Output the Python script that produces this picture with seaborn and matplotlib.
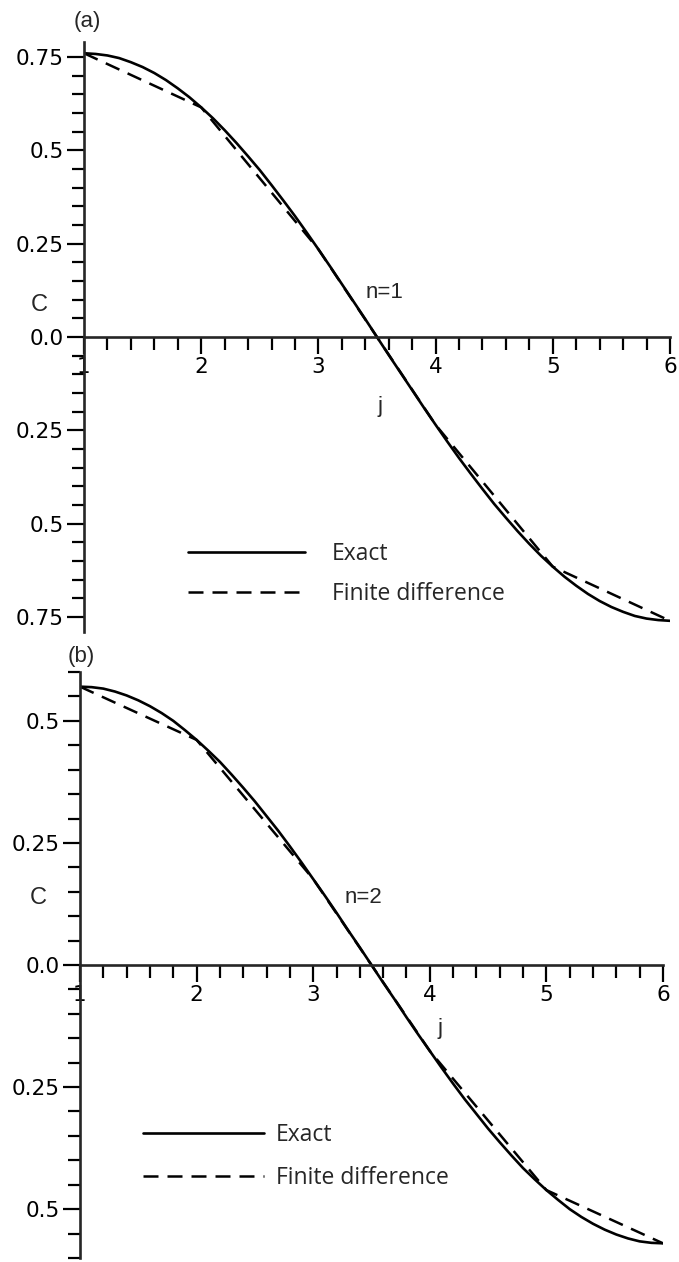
import matplotlib
matplotlib.use("Agg")
import matplotlib.pyplot as plt
import seaborn as sns
from matplotlib.ticker import MultipleLocator, FixedLocator, FixedFormatter

# values
j_fine = [1.0, 1.1, 1.2, 1.3, 1.4, 1.5, 1.6, 1.7, 1.8, 1.9,
          2.0, 2.1, 2.2, 2.3, 2.4, 2.5, 2.6, 2.7, 2.8, 2.9,
          3.0, 3.1, 3.2, 3.3, 3.4, 3.5, 3.6, 3.7, 3.8, 3.9,
          4.0, 4.1, 4.2, 4.3, 4.4, 4.5, 4.6, 4.7, 4.8, 4.9,
          5.0, 5.1, 5.2, 5.3, 5.4, 5.5, 5.6, 5.7, 5.8, 5.9, 6.0]
exact_a = [0.760, 0.758, 0.754, 0.747, 0.736, 0.723, 0.707, 0.688, 0.666, 0.642,
           0.615, 0.586, 0.554, 0.520, 0.484, 0.447, 0.407, 0.366, 0.324, 0.280,
           0.235, 0.189, 0.142, 0.095, 0.048, 0.000, -0.048, -0.095, -0.142, -0.189,
           -0.235, -0.280, -0.324, -0.366, -0.407, -0.447, -0.484, -0.520, -0.554, -0.586,
           -0.615, -0.642, -0.666, -0.688, -0.707, -0.723, -0.736, -0.747, -0.754, -0.758,
           -0.760]
exact_b = [0.570, 0.569, 0.566, 0.560, 0.552, 0.542, 0.530, 0.516, 0.500, 0.481,
           0.461, 0.439, 0.416, 0.390, 0.363, 0.335, 0.305, 0.275, 0.243, 0.210,
           0.176, 0.142, 0.107, 0.071, 0.036, 0.000, -0.036, -0.071, -0.107, -0.142,
           -0.176, -0.210, -0.243, -0.275, -0.305, -0.335, -0.363, -0.390, -0.416, -0.439,
           -0.461, -0.481, -0.500, -0.516, -0.530, -0.542, -0.552, -0.560, -0.566, -0.569,
           -0.570]
j_grid = [1, 2, 3, 4, 5, 6]
fd_a = [0.760, 0.615, 0.235, -0.235, -0.615, -0.760]
fd_b = [0.570, 0.461, 0.176, -0.176, -0.461, -0.570]

yticks_a = [-0.75, -0.5, -0.25, 0.0, 0.25, 0.5, 0.75]
ylabels_a = ["0.75", "0.5", "0.25", "0.0", "0.25", "0.5", "0.75"]
yticks_b = [-0.5, -0.25, 0.0, 0.25, 0.5]
ylabels_b = ["0.5", "0.25", "0.0", "0.25", "0.5"]
xticks = [1, 2, 3, 4, 5, 6]

sns.set_style("ticks")
plt.rcParams['font.family'] = ['Liberation Sans', 'DejaVu Sans']

fig = plt.figure(figsize=(6.79, 12.62), dpi=100)
ax_a = fig.add_axes([0.1237, 0.4992, 0.8630, 0.4675])
ax_b = fig.add_axes([0.1178, 0.0032, 0.8586, 0.4643])

dash = (0, (6, 3.6))
tick_font = {"family": ["DejaVu Sans"], "size": 15.5}


def style_axis(ax, ylim, yt, yl):
    ax.set_xlim(1, 6)
    ax.set_ylim(ylim)
    for s in ["top", "right"]:
        ax.spines[s].set_visible(False)
    ax.spines["bottom"].set_position(("data", 0))
    ax.spines["left"].set_linewidth(1.9)
    ax.spines["bottom"].set_linewidth(1.9)
    ax.xaxis.set_major_locator(FixedLocator(xticks))
    ax.xaxis.set_minor_locator(MultipleLocator(0.2))
    ax.yaxis.set_major_locator(FixedLocator(yt))
    ax.yaxis.set_major_formatter(FixedFormatter(yl))
    ax.yaxis.set_minor_locator(MultipleLocator(0.05))
    ax.tick_params(which="major", direction="out", length=12.5, width=1.6,
                   pad=2, color="black", labelcolor="black")
    ax.tick_params(which="minor", direction="out", length=9, width=1.6,
                   color="black")
    for lab in ax.get_xticklabels() + ax.get_yticklabels():
        lab.set_fontfamily(tick_font["family"])
        lab.set_fontsize(tick_font["size"])
    ax.set_xlabel("")
    ax.set_ylabel("")


def legend(ax, x, y, spacing, hlen, hpad):
    ax.legend(loc="center left", bbox_to_anchor=(x, y),
              bbox_transform=ax.transData, frameon=False, borderpad=0,
              borderaxespad=0, handlelength=hlen, handletextpad=hpad,
              labelspacing=spacing,
              prop={"family": ["Open Sans", "DejaVu Sans"], "size": 16.5})


# panel (a)
sns.lineplot(x=j_fine, y=exact_a, ax=ax_a, color="black", lw=1.9, label="Exact")
sns.lineplot(x=j_grid, y=fd_a, ax=ax_a, color="black", lw=1.8, linestyle=dash,
             label="Finite difference")
style_axis(ax_a, (-0.79, 0.79), yticks_a, ylabels_a)
legend(ax_a, 1.89, -0.634, 0.68, 5.1, 1.18)
ax_a.text(3.56, 0.118, "n=1", fontsize=16, ha="center", va="center")
ax_a.text(3.53, -0.185, "j", fontsize=16, ha="center", va="center")
ax_a.text(0.62, 0.085, "C", fontsize=17, ha="center", va="center")
ax_a.text(1.03, 0.845, "(a)", fontsize=16, ha="center", va="center", clip_on=False)

# panel (b)
sns.lineplot(x=j_fine, y=exact_b, ax=ax_b, color="black", lw=1.9, label="Exact")
sns.lineplot(x=j_grid, y=fd_b, ax=ax_b, color="black", lw=1.8, linestyle=dash,
             label="Finite difference")
style_axis(ax_b, (-0.6, 0.6), yticks_b, ylabels_b)
legend(ax_b, 1.54, -0.392, 0.8, 5.3, 0.5)
ax_b.text(3.43, 0.138, "n=2", fontsize=16, ha="center", va="center")
ax_b.text(4.09, -0.13, "j", fontsize=16, ha="center", va="center")
ax_b.text(0.64, 0.138, "C", fontsize=17, ha="center", va="center")
ax_b.text(1.01, 0.632, "(b)", fontsize=16, ha="center", va="center", clip_on=False)

fig.savefig("out.png", dpi=100)
